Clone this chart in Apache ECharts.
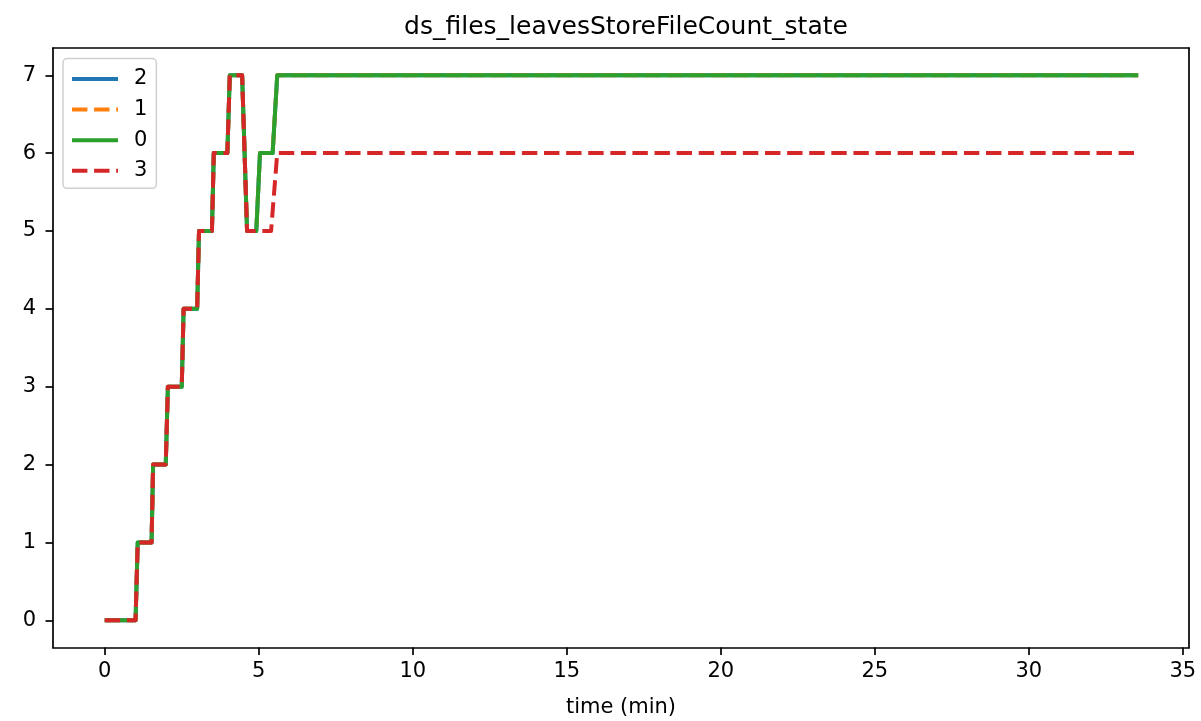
<!DOCTYPE html>
<html>
<head>
<meta charset="utf-8">
<script src="https://cdn.jsdelivr.net/npm/echarts@6/dist/echarts.min.js"></script>
<style>html,body{margin:0;padding:0;background:#fff}#c{width:1201px;height:721px}</style>
</head>
<body>
<div id="c"></div>
<script>
// time (min) and value arrays
var times012 = [0, 1.0, 1.07, 1.52, 1.57, 1.98, 2.05, 2.50, 2.56, 3.0, 3.06, 3.48, 3.54, 3.98, 4.06, 4.46, 4.62, 4.92, 5.04, 5.45, 5.60, 33.55];
var values2 = [0, 0, 1, 1, 2, 2, 3, 3, 4, 4, 5, 5, 6, 6, 7, 7, 5, 5, 6, 6, 7, 7];
var values1 = [0, 0, 1, 1, 2, 2, 3, 3, 4, 4, 5, 5, 6, 6, 7, 7, 5, 5, 6, 6, 7, 7];
var values0 = [0, 0, 1, 1, 2, 2, 3, 3, 4, 4, 5, 5, 6, 6, 7, 7, 5, 5, 6, 6, 7, 7];
var times3 = [0, 1.0, 1.07, 1.52, 1.57, 1.98, 2.05, 2.50, 2.56, 3.0, 3.06, 3.48, 3.54, 3.98, 4.06, 4.46, 4.62, 5.40, 5.60, 33.55];
var values3 = [0, 0, 1, 1, 2, 2, 3, 3, 4, 4, 5, 5, 6, 6, 7, 7, 5, 5, 6, 6];
var seriesNames = ['2', '1', '0', '3'];
var xTicks = [0, 5, 10, 15, 20, 25, 30, 35];
var yTicks = [0, 1, 2, 3, 4, 5, 6, 7];
var titleText = 'ds_files_leavesStoreFileCount_state';
var xName = 'time (min)';

function pairs(t, v) { return t.map(function (x, i) { return [x, v[i]]; }); }

var FONT = 'DejaVu Sans';
var colors = ['#1f77b4', '#ff7f0e', '#2ca02c', '#d62728'];
var dataSets = [pairs(times012, values2), pairs(times012, values1), pairs(times012, values0), pairs(times3, values3)];
var dashed = [false, true, false, true];
var XMIN = -1.68, XMAX = 35.2, YMIN = -0.35, YMAX = 7.35;

function spineAxis(pos, mn, mx) {
  return {
    type: 'value', position: pos, min: mn, max: mx,
    axisLine: {show: true, onZero: false, lineStyle: {color: '#000', width: 1.7}},
    axisTick: {show: false}, axisLabel: {show: false}, splitLine: {show: false}
  };
}

var chart = echarts.init(document.getElementById('c'), null, {renderer: 'canvas'});
chart.setOption({
  animation: false,
  backgroundColor: '#ffffff',
  title: {
    text: titleText, left: 621, top: 10, textAlign: 'center',
    textStyle: {fontFamily: FONT, fontSize: 25, fontWeight: 'normal', color: '#000'}
  },
  legend: {
    orient: 'vertical', left: 63, top: 58.5,
    data: seriesNames,
    itemWidth: 46, itemHeight: 14, itemGap: 9.6,
    padding: [10, 9, 7, 7],
    borderColor: '#d0d0d0', borderWidth: 1.5, borderRadius: 4,
    backgroundColor: 'rgba(255,255,255,0.8)',
    itemStyle: {opacity: 0},
    lineStyle: {width: 4},
    textStyle: {fontFamily: FONT, fontSize: 21, lineHeight: 21, color: '#000', padding: [0, 0, 0, 11]}
  },
  grid: {left: 53, right: 12, top: 48, bottom: 73.5, containLabel: false, outerBoundsMode: 'none'},
  xAxis: [{
    type: 'value', min: XMIN, max: XMAX,
    name: xName, nameLocation: 'middle', nameGap: 50,
    nameTextStyle: {fontFamily: FONT, fontSize: 21, color: '#000'},
    axisLine: {show: true, onZero: false, lineStyle: {color: '#000', width: 1.7}},
    axisTick: {show: true, customValues: xTicks, length: 7.5, lineStyle: {color: '#000', width: 1.7}},
    axisLabel: {customValues: xTicks, fontFamily: FONT, fontSize: 21, color: '#000', margin: 14},
    splitLine: {show: false}
  }, spineAxis('top', XMIN, XMAX)],
  yAxis: [{
    type: 'value', min: YMIN, max: YMAX,
    axisLine: {show: true, onZero: false, lineStyle: {color: '#000', width: 1.7}},
    axisTick: {show: true, customValues: yTicks, length: 7.5, lineStyle: {color: '#000', width: 1.7}},
    axisLabel: {customValues: yTicks, fontFamily: FONT, fontSize: 21, color: '#000', margin: 17},
    splitLine: {show: false}
  }, spineAxis('right', YMIN, YMAX)],
  series: seriesNames.map(function (n, i) {
    return {
      name: n, type: 'line', data: dataSets[i], symbol: 'none', showSymbol: false,
      xAxisIndex: 0, yAxisIndex: 0,
      color: colors[i],
      lineStyle: {color: colors[i], width: 4, type: dashed[i] ? [15.4, 6.7] : 'solid', cap: 'butt', join: 'round'},
      itemStyle: {color: colors[i]},
      z: 2 + i
    };
  })
});
</script>
</body>
</html>
